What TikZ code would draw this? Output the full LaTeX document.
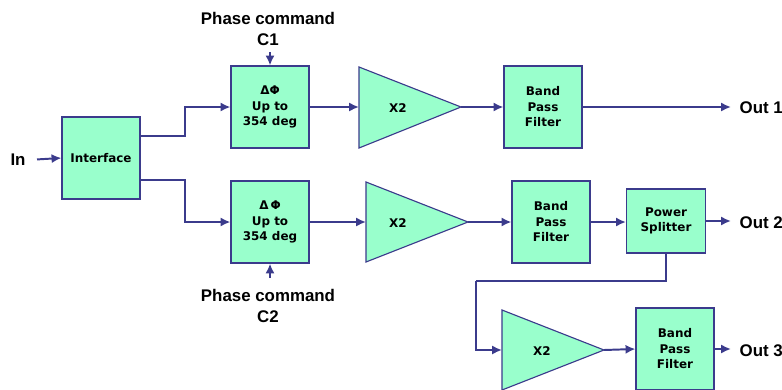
\documentclass[tikz,border=0pt]{standalone}
\usepackage{fontspec}
\usepackage{tikz}
\usetikzlibrary{arrows.meta, positioning, calc}
\newfontfamily\boxfont{DejaVu Sans}
\newfontfamily\labelfont{Liberation Sans}
\definecolor{boxgreen}{HTML}{99FFCC}
\definecolor{linenavy}{HTML}{3B3B8C}

\begin{document}
\begin{tikzpicture}[
    x=0.025cm, y=-0.025cm,
    block/.style={draw=linenavy, line width=0.8pt, fill=boxgreen, align=center,
        font=\boxfont\bfseries\fontsize{8.5}{11}\selectfont,
        minimum width=1.95cm, minimum height=2.05cm, inner sep=1pt},
    ampshape/.style={draw=linenavy, line width=0.8pt, fill=boxgreen},
    conn/.style={draw=linenavy, line width=1.4pt, -{Latex[length=7pt, width=6.5pt]}},
    plainline/.style={draw=linenavy, line width=1.4pt},
    sig/.style={font=\labelfont\bfseries\fontsize{12}{15.5}\selectfont, align=center, inner sep=1pt},
]
    \useasboundingbox (0,0) rectangle (782,389);

    % blocks
    \node[block] (iface) at (101,158) {Interface};
    \node[block] (phaseone) at (270,107) {ΔΦ\\Up to\\354 deg};
    \node[block] (phasetwo) at (270,222) {Δ\,Φ\\Up to\\354 deg};
    \node[block] (bpfone) at (543,107) {Band\\Pass\\Filter};
    \node[block] (bpftwo) at (551,222) {Band\\Pass\\Filter};
    \node[block, minimum width=1.975cm, minimum height=1.6cm] (psplit) at (666,221) {Power\\Splitter};
    \node[block] (bpfthree) at (675,349) {Band\\Pass\\Filter};

    % doublers
    \draw[ampshape] (359,67) -- (461,107) -- (359,148) -- cycle;
    \draw[ampshape] (366,182) -- (468,222) -- (366,262) -- cycle;
    \draw[ampshape] (502,310) -- (604,350) -- (502,390) -- cycle;
    \coordinate (amponein) at (359,107);  \coordinate (ampone) at (461,107);
    \coordinate (amptwoin) at (366,222);  \coordinate (amptwo) at (468,222);
    \coordinate (ampthreein) at (502,350); \coordinate (ampthree) at (604,350);
    \node[font=\boxfont\bfseries\fontsize{8.5}{11}\selectfont] (xone) at (398,108) {X2};
    \node[font=\boxfont\bfseries\fontsize{8.5}{11}\selectfont] (xtwo) at (398,223) {X2};
    \node[font=\boxfont\bfseries\fontsize{8.5}{11}\selectfont] (xthree) at (542,351) {X2};

    % labels
    \node[sig] (inlabel) at (18,160) {In};
    \node[sig] (cmdone) at (268,29) {Phase command\\C1};
    \node[sig] (cmdtwo) at (268,306) {Phase command\\C2};
    \node[sig, anchor=west] (outone) at (738,108) {Out 1};
    \node[sig, anchor=west] (outtwo) at (738,223) {Out 2};
    \node[sig, anchor=west] (outthree) at (738,351) {Out 3};
    \coordinate (cmdonetip) at (270,52);
    \coordinate (cmdtwotip) at (270,278);
    \coordinate (bend) at (476,281);

    % signal path
    \draw[conn, shorten <=7pt] (inlabel.east) -- (iface.west);
    \draw[conn] ([yshift=0.55cm]iface.east) -- ++(44,0) |- (phaseone.west);
    \draw[conn] ([yshift=-0.55cm]iface.east) -- ++(44,0) |- (phasetwo.west);
    \draw[conn] (cmdonetip) -- (phaseone.north);
    \draw[conn] (cmdtwotip) -- (phasetwo.south);
    \draw[conn] (phaseone.east) -- (amponein);
    \draw[conn] (phasetwo.east) -- (amptwoin);
    \draw[conn] (ampone) -- (bpfone.west);
    \draw[conn] (amptwo) -- (bpftwo.west);
    \draw[conn] (bpftwo.east) -- (psplit.west |- bpftwo.east);
    \draw[conn, shorten >=5pt] (bpfone.east) -- (outone.west |- bpfone.east);
    \draw[conn, shorten >=5pt] (psplit.east) -- (outtwo.west |- psplit.east);
    \draw[plainline] (psplit.south) |- (bend);
    \draw[conn] (bend) |- (ampthreein);
    \draw[conn] (ampthree) -- (bpfthree.west);
    \draw[conn, shorten >=5pt] (bpfthree.east) -- (outthree.west |- bpfthree.east);
\end{tikzpicture}
\end{document}
